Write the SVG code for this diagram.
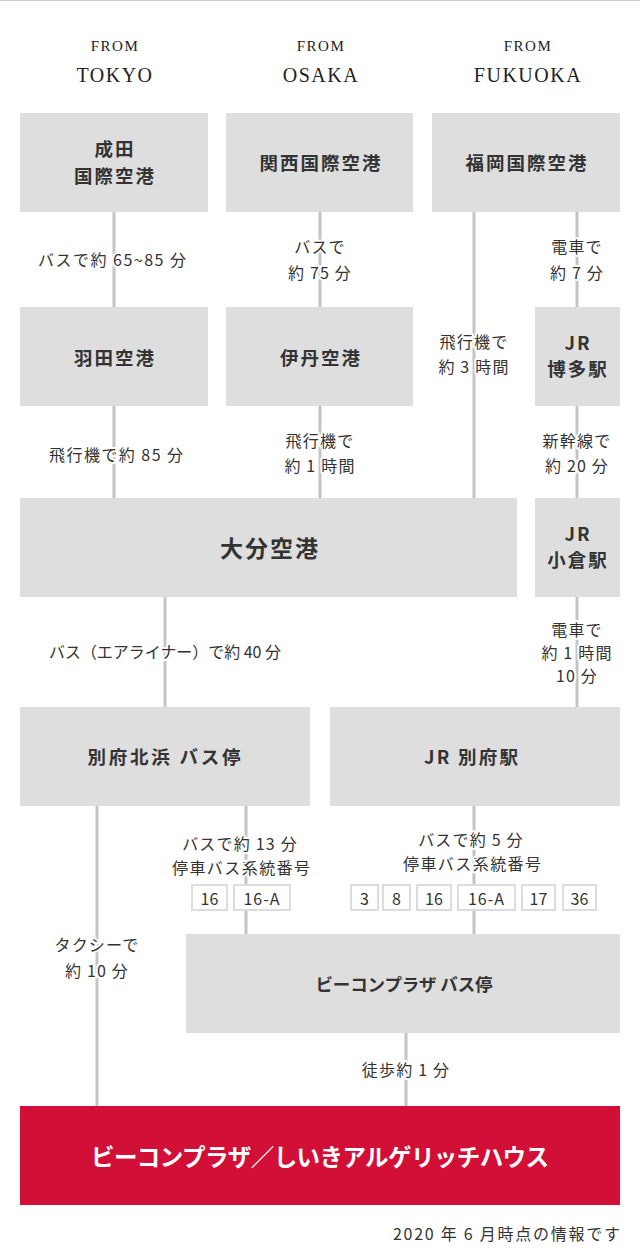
<svg xmlns="http://www.w3.org/2000/svg" width="640" height="1254" viewBox="0 0 640 1254">
<style>
.box{fill:#dedede}
.red{fill:#d20f36}
.bt{font-family:"Noto Sans CJK JP","Noto Sans",sans-serif;font-weight:bold;font-size:18.5px;fill:#333;text-anchor:middle;dominant-baseline:central;letter-spacing:2px}
.lb{font-family:"Noto Sans CJK JP","Noto Sans",sans-serif;font-size:16px;fill:#333;text-anchor:middle;dominant-baseline:central;letter-spacing:1.2px;stroke:#fff;stroke-width:4px;paint-order:stroke;stroke-linejoin:round}
.hd{font-family:"Liberation Serif",serif;fill:#222;text-anchor:middle}
.ln{stroke:#c4c4c4;stroke-width:3;fill:none}
.bg{fill:#fff;stroke:#dcdcdc;stroke-width:2}
.bn{font-family:"Noto Sans CJK JP","Noto Sans",sans-serif;font-size:16px;fill:#333;text-anchor:middle;dominant-baseline:central}
</style>
<line x1="0" y1="0.5" x2="640" y2="0.5" stroke="#cccccc" stroke-width="1"/>
<g id="headers">
<text class="hd" x="115" y="51" font-size="15" letter-spacing="1.5">FROM</text>
<text class="hd" x="115" y="82" font-size="20" letter-spacing="1.5">TOKYO</text>
<text class="hd" x="321" y="51" font-size="15" letter-spacing="1.5">FROM</text>
<text class="hd" x="321" y="82" font-size="20" letter-spacing="1.5">OSAKA</text>
<text class="hd" x="528" y="51" font-size="15" letter-spacing="1.5">FROM</text>
<text class="hd" x="528" y="82" font-size="20" letter-spacing="1.5">FUKUOKA</text>
</g>
<g id="connectors">
<line class="ln" x1="114" y1="212" x2="114" y2="307"/>
<line class="ln" x1="320" y1="212" x2="320" y2="307"/>
<line class="ln" x1="474" y1="212" x2="474" y2="498"/>
<line class="ln" x1="577" y1="212" x2="577" y2="307"/>
<line class="ln" x1="114" y1="406" x2="114" y2="498"/>
<line class="ln" x1="320" y1="406" x2="320" y2="498"/>
<line class="ln" x1="577" y1="406" x2="577" y2="498"/>
<line class="ln" x1="165" y1="597" x2="165" y2="707"/>
<line class="ln" x1="577" y1="597" x2="577" y2="707"/>
<line class="ln" x1="97" y1="806" x2="97" y2="1106"/>
<line class="ln" x1="246" y1="806" x2="246" y2="934"/>
<line class="ln" x1="474" y1="806" x2="474" y2="934"/>
<line class="ln" x1="406" y1="1033" x2="406" y2="1106"/>
<text class="lb" x="112" y="259" textLength="148" lengthAdjust="spacing" style="letter-spacing:0">バスで約 65~85 分</text>
<text class="lb" x="320" y="246">バスで</text>
<text class="lb" x="320" y="272">約 75 分</text>
<text class="lb" x="577" y="246">電車で</text>
<text class="lb" x="577" y="272">約 7 分</text>
<text class="lb" x="474" y="341">飛行機で</text>
<text class="lb" x="474" y="366">約 3 時間</text>
<text class="lb" x="116" y="454" textLength="134" lengthAdjust="spacing" style="letter-spacing:0">飛行機で約 85 分</text>
<text class="lb" x="320" y="440">飛行機で</text>
<text class="lb" x="320" y="465">約 1 時間</text>
<text class="lb" x="577" y="440">新幹線で</text>
<text class="lb" x="577" y="465">約 20 分</text>
<text class="lb" x="165" y="651" textLength="232" lengthAdjust="spacingAndGlyphs" style="letter-spacing:0">バス（エアライナー）で約 40 分</text>
<text class="lb" x="577" y="629">電車で</text>
<text class="lb" x="577" y="652">約 1 時間</text>
<text class="lb" x="577" y="675">10 分</text>
<text class="lb" x="240" y="843">バスで約 13 分</text>
<text class="lb" x="241" y="867" textLength="138" lengthAdjust="spacing" style="letter-spacing:0">停車バス系統番号</text>
<text class="lb" x="471" y="839">バスで約 5 分</text>
<text class="lb" x="472" y="863" textLength="138" lengthAdjust="spacing" style="letter-spacing:0">停車バス系統番号</text>
<text class="lb" x="97" y="944">タクシーで</text>
<text class="lb" x="97" y="970">約 10 分</text>
<text class="lb" x="406" y="1069">徒歩約 1 分</text>
<g id="badges">
<rect class="bg" x="192" y="885" width="35" height="25"/><text class="bn" x="209.5" y="897.5">16</text>
<rect class="bg" x="234" y="885" width="56" height="25"/><text class="bn" x="262" y="897.5" style="letter-spacing:1px">16-A</text>
<rect class="bg" x="351" y="885" width="27" height="25"/><text class="bn" x="364.5" y="897.5">3</text>
<rect class="bg" x="383" y="885" width="27" height="25"/><text class="bn" x="396.5" y="897.5">8</text>
<rect class="bg" x="417" y="885" width="34" height="25"/><text class="bn" x="434" y="897.5">16</text>
<rect class="bg" x="458" y="885" width="57" height="25"/><text class="bn" x="486.5" y="897.5" style="letter-spacing:1px">16-A</text>
<rect class="bg" x="522" y="885" width="33" height="25"/><text class="bn" x="538.5" y="897.5">17</text>
<rect class="bg" x="563" y="885" width="33" height="25"/><text class="bn" x="579.5" y="897.5">36</text>
</g>
</g>
<g id="narita"><rect class="box" x="20" y="113" width="188" height="99"/><text class="bt" x="115" y="148">成田</text><text class="bt" x="115" y="175">国際空港</text></g>
<g id="kansai"><rect class="box" x="226" y="113" width="187" height="99"/><text class="bt" x="321" y="162">関西国際空港</text></g>
<g id="fukuoka"><rect class="box" x="432" y="113" width="188" height="99"/><text class="bt" x="527" y="162">福岡国際空港</text></g>
<g id="haneda"><rect class="box" x="20" y="307" width="188" height="99"/><text class="bt" x="115" y="357">羽田空港</text></g>
<g id="itami"><rect class="box" x="226" y="307" width="187" height="99"/><text class="bt" x="321" y="357">伊丹空港</text></g>
<g id="hakata"><rect class="box" x="535" y="307" width="85" height="99"/><text class="bt" x="578" y="342">JR</text><text class="bt" x="578" y="368">博多駅</text></g>
<g id="oita"><rect class="box" x="20" y="498" width="497" height="99"/><text class="bt" x="270" y="547" style="font-size:23px;letter-spacing:2px">大分空港</text></g>
<g id="kokura"><rect class="box" x="535" y="498" width="85" height="99"/><text class="bt" x="578" y="533">JR</text><text class="bt" x="578" y="559">小倉駅</text></g>
<g id="kitahama"><rect class="box" x="20" y="707" width="290" height="99"/><text class="bt" x="164" y="756" textLength="153" lengthAdjust="spacing" style="letter-spacing:0">別府北浜 バス停</text></g>
<g id="beppu"><rect class="box" x="330" y="707" width="290" height="99"/><text class="bt" x="471" y="756" textLength="94" lengthAdjust="spacing" style="letter-spacing:0">JR 別府駅</text></g>
<g id="bconstop"><rect class="box" x="186" y="934" width="434" height="99"/><text class="bt" x="404" y="983" textLength="177" lengthAdjust="spacing" style="font-size:17.5px;letter-spacing:0">ビーコンプラザ バス停</text></g>
<g id="goal"><rect class="red" x="20" y="1106" width="600" height="99"/><text class="bt" x="320" y="1156" textLength="458" lengthAdjust="spacing" style="font-size:23.5px;letter-spacing:0;fill:#fff">ビーコンプラザ／しいきアルゲリッチハウス</text></g>
<text x="620" y="1233" font-family="'Noto Sans CJK JP','Noto Sans',sans-serif" font-size="16" fill="#333" text-anchor="end" dominant-baseline="central" textLength="227" lengthAdjust="spacing">2020 年 6 月時点の情報です</text>
</svg>
